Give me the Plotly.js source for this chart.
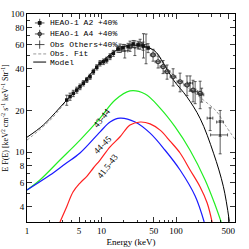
<!DOCTYPE html>
<html><head><meta charset="utf-8">
<script src="https://cdn.plot.ly/plotly-3.0.1.min.js"></script>
<style>html,body{margin:0;padding:0;background:#fff}#c{width:249px;height:249px}</style>
</head><body><div id="c"></div>
<script>
// ---- data ----
const a2E = [3.41,3.78,4.18,4.65,5.14,5.70,6.33,7.01,7.76,8.63,9.55,10.6,11.7,13.0,14.4,16.6,19.4,22.7,26.5,30.9,36.1,42.1];
const a2F = [23.8,25.2,26.6,28.1,29.7,31.5,33.3,35.1,38.2,41.1,44.0,45.1,46.4,49.1,51.9,55.7,57.0,57.9,60.7,59.6,58.6,56.7];
const a2Err = [2.0,1.5,1.4,1.4,1.4,1.4,1.4,1.5,1.6,1.8,2.0,2.1,2.2,2.4,2.6,3.0,3.2,3.4,3.6,3.8,4.0,4.2];

const a4E = [17.7,24.1,32.9,49.1,57.3,66.9,75.7,91.2,113,140,169,210];
const a4F = [56.6,58.6,60.6,50.5,45.1,41.5,38.2,35.1,32.3,30.6,28.1,26.6];
const a4Err = [4,5,5,5,4.5,4.5,4.5,5,5,5,5,6];
const a4ErrE = [1.5,2,3,4,5,6,7,8,10,12,15,18];

const othE = [20.5,28,36.5,39.5,154,180,220,286,390,390];
const othF = [54,57,60,57.6,31.6,27.4,26,17.6,16.5,13.3];
const othErr = [6,7,12,14,4,5,3,3.3,3.5,3.6];
const othErrE = [2,3,4,4,12,15,15,25,40,100];

const fitE = [1,2,3.4,10,20,30,50,80,139,233,351,455,640];
const fitF = [12.2,16.8,23.4,44.5,57.5,59,55,39,29.7,23.8,19.6,15.7,12.0];

const modelE = [1,1.66,3.41,5.14,9.55,17.7,26.5,49.6,67.6,92.4,139,210,318,431,519];
const modelF = [12.8,15.7,23.8,29.7,44,56.6,59.6,54.9,44.0,33.2,25.2,17.5,9.8,5.6,3.13];

const greenE = [1,1.49,2.77,5.14,9.55,15.2,24.1,38.4,61.0,97.0,154,245,334,402];
const greenF = [5.31,6.27,8.75,12.2,17.6,23.8,27.7,26.3,20.8,15.2,10.3,6.27,4.13,3.11];

const blueE = [1,2.04,3.24,5.14,9.55,13.0,17.7,28.2,44.8,71.2,113,180,238];
const blueF = [5.31,6.81,8.19,9.84,14.0,16.5,17.6,16.5,13.7,10.3,7.41,4.80,3.11];

const redE = [2.77,3.41,4.14,5.14,6.39,7.76,9.55,13.0,17.7,24.1,32.9,44.8,61.0,83.0,113,154,210,261,304];
const redF = [3.11,4.02,5.13,5.96,6.70,7.66,8.75,10.9,12.9,15.7,16.5,16.0,14.4,12.0,9.84,7.41,5.58,4.27,3.11];

const xTickVals = [1,5,10,50,100,500];
const xTickText = ['1','5','10','50','100','500'];
const xMinor = [2,3,4,6,7,8,9,20,30,40,60,70,80,90,200,300,400,600];
const yTickVals = [4,6,8,10,20,40,60,80,100];
const yTickText = ['4','6','8','10','20','40','60','80','100'];
const yMinor = [5,7,9,30,50,70,90];

const legendLabels = ['HEAO-1 A2 +40%','HEAO-1 A4 +40%','Obs Others+40%','Obs. Fit','Model'];
const curveLabels = ['43-44','44-45','41.5-43'];

const serif = 'Liberation Serif, DejaVu Serif, serif';
const mono = 'Liberation Mono, DejaVu Sans Mono, monospace';

const errStyle = {color:'#333', thickness:0.8, width:1.5};

const traces = [
  {x:greenE, y:greenF, mode:'lines', line:{color:'#22ee22', width:1.2, shape:'spline'}},
  {x:blueE, y:blueF, mode:'lines', line:{color:'#1a1aff', width:1.2, shape:'spline'}},
  {x:redE, y:redF, mode:'lines', line:{color:'#ff2020', width:1.2, shape:'spline'}},
  {x:fitE, y:fitF, mode:'lines', line:{color:'#999', width:1, dash:'3px,2px', shape:'spline'}},
  {x:modelE, y:modelF, mode:'lines', line:{color:'#000', width:1, shape:'spline'}},
  {x:othE, y:othF, mode:'markers', marker:{size:2, color:'#333'},
    error_y:Object.assign({type:'data', array:othErr}, errStyle),
    error_x:Object.assign({type:'data', array:othErrE}, errStyle)},
  {x:a4E, y:a4F, mode:'markers', marker:{symbol:'circle-open', size:4, color:'#333', line:{width:1.2}},
    error_y:Object.assign({type:'data', array:a4Err}, errStyle),
    error_x:Object.assign({type:'data', array:a4ErrE}, errStyle)},
  {x:a2E, y:a2F, mode:'markers', marker:{symbol:'square', size:3.5, color:'#111'},
    error_y:Object.assign({type:'data', array:a2Err}, errStyle)}
];

// legend drawn as decoration (paper coords)
const rowsY = [0.957,0.904,0.853,0.808,0.769];
const shapes = [];
const annotations = [];
for (let i=0;i<3;i++){
  const y = rowsY[i];
  shapes.push({type:'line', xref:'paper', yref:'paper', x0:0.038, x1:0.084, y0:y, y1:y, line:{color:'#222', width:0.8}});
  shapes.push({type:'line', xref:'paper', yref:'paper', x0:0.061, x1:0.061, y0:y-0.02, y1:y+0.02, line:{color:'#222', width:0.8}});
  if (i===0) shapes.push({type:'rect', xref:'paper', yref:'paper', x0:0.052, x1:0.070, y0:y-0.009, y1:y+0.009, fillcolor:'#111', line:{width:0}});
  if (i===1) shapes.push({type:'circle', xref:'paper', yref:'paper', x0:0.052, x1:0.070, y0:y-0.009, y1:y+0.009, fillcolor:'#555', line:{color:'#222', width:0.8}});
}
shapes.push({type:'line', xref:'paper', yref:'paper', x0:0.030, x1:0.092, y0:rowsY[3], y1:rowsY[3], line:{color:'#999', width:1, dash:'3px,2px'}});
shapes.push({type:'line', xref:'paper', yref:'paper', x0:0.030, x1:0.092, y0:rowsY[4], y1:rowsY[4], line:{color:'#000', width:1}});
legendLabels.forEach((t,i)=>annotations.push({xref:'paper', yref:'paper', x:0.101, y:rowsY[i], xanchor:'left', yanchor:'middle', text:t, showarrow:false, font:{family:mono, size:8, color:'#000'}}));

const labelPos = [[0.296,0.50,-52],[0.296,0.37,-45],[0.313,0.19,-52]];
curveLabels.forEach((t,i)=>annotations.push({xref:'paper', yref:'paper', x:labelPos[i][0], y:labelPos[i][1], text:t, textangle:labelPos[i][2], showarrow:false, font:{family:serif, size:9, color:'#000'}}));

const axisCommon = {
  type:'log', showline:true, linecolor:'#000', linewidth:1, mirror:'allticks',
  ticks:'inside', ticklen:5, tickwidth:0.8, tickcolor:'#000',
  showgrid:false, zeroline:false, tickmode:'array',
  tickfont:{family:serif, size:9, color:'#000'}
};

const layout = {
  width:249, height:249, margin:{l:27, r:14, t:14, b:27},
  paper_bgcolor:'#fff', plot_bgcolor:'#fff', showlegend:false,
  xaxis:Object.assign({}, axisCommon, {range:[0,2.79], tickvals:xTickVals, ticktext:xTickText,
    minor:{tickmode:'array', tickvals:xMinor, ticks:'inside', ticklen:2.5, tickcolor:'#000', tickwidth:0.8},
    title:{text:'Energy (keV)', font:{family:serif, size:9, color:'#000'}, standoff:3}}),
  yaxis:Object.assign({}, axisCommon, {range:[0.493,2], tickvals:yTickVals, ticktext:yTickText,
    minor:{tickmode:'array', tickvals:yMinor, ticks:'inside', ticklen:2.5, tickcolor:'#000', tickwidth:0.8},
    title:{text:'E F(E) [keV<sup>2</sup> cm<sup>-2</sup> s<sup>-1</sup> keV<sup>-1</sup> Str<sup>-1</sup>]', font:{family:serif, size:8, color:'#000'}, standoff:2}}),
  shapes:shapes, annotations:annotations
};

Plotly.newPlot('c', traces, layout, {staticPlot:true, displayModeBar:false});
</script></body></html>
